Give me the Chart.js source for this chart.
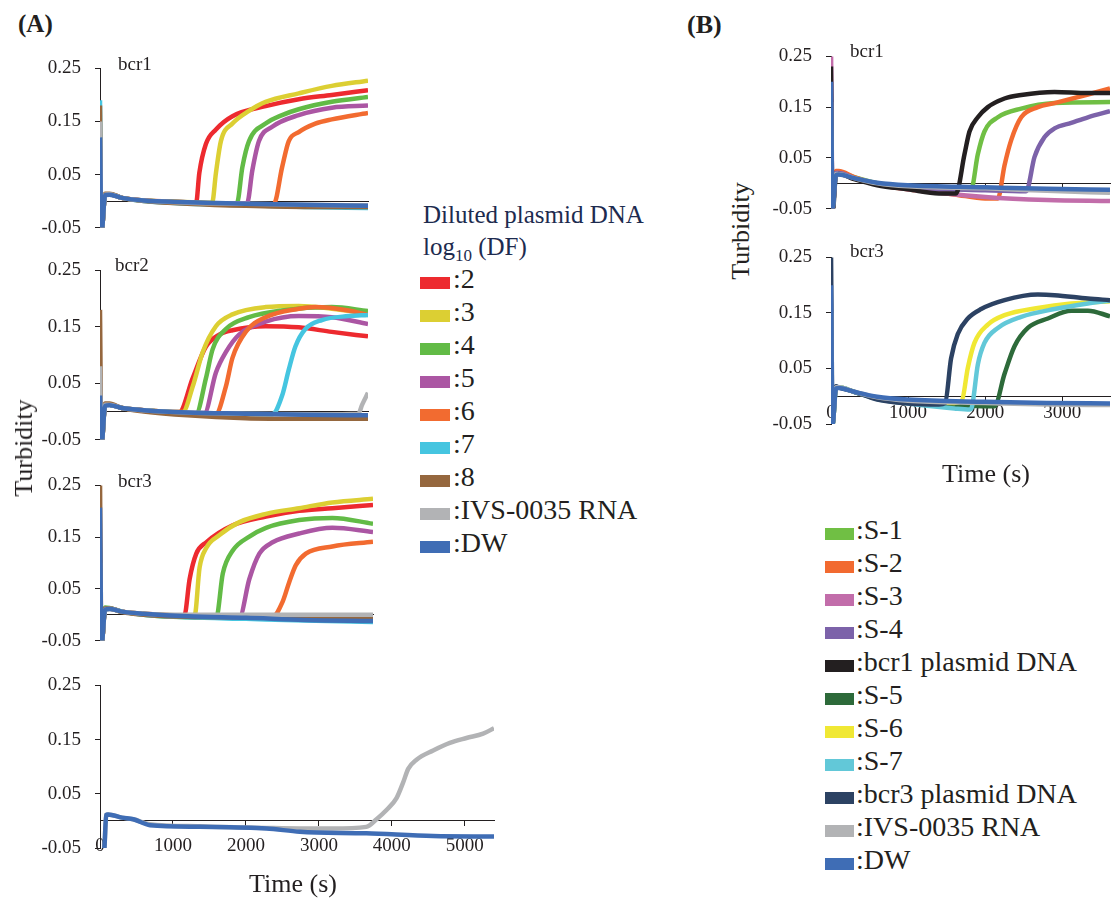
<!DOCTYPE html>
<html>
<head>
<meta charset="utf-8">
<script src="https://cdn.jsdelivr.net/npm/chart.js@4.4.0/dist/chart.umd.min.js"></script>
<style>
body{margin:0;width:1111px;height:901px;overflow:hidden;background:#fff;position:relative;font-family:"Liberation Serif","Times New Roman",serif;color:#231f20}
canvas{position:absolute}
.t{position:absolute;white-space:nowrap;line-height:1}
.lab{font-size:19px}
.ax{font-size:26px}
.rot{transform:translate(-50%,-50%) rotate(-90deg)}
.box{position:absolute;height:12px}
.leg{position:absolute;font-size:28px;line-height:1;white-space:nowrap}
</style>
</head>
<body>
<canvas id="a1"></canvas>
<canvas id="a2"></canvas>
<canvas id="a3"></canvas>
<canvas id="a4"></canvas>
<canvas id="b1"></canvas>
<canvas id="b2"></canvas>

<div class="t" style="left:18px;top:11px;font-size:25px;font-weight:bold">(A)</div>
<div class="t" style="left:687px;top:12px;font-size:26px;font-weight:bold">(B)</div>
<div class="t lab" style="left:118px;top:54px">bcr1</div>
<div class="t lab" style="left:115px;top:255px">bcr2</div>
<div class="t lab" style="left:118px;top:471px">bcr3</div>
<div class="t lab" style="left:850px;top:41px">bcr1</div>
<div class="t lab" style="left:850px;top:241px">bcr3</div>
<div class="t ax rot" style="left:24px;top:448px">Turbidity</div>
<div class="t ax rot" style="left:741px;top:231px">Turbidity</div>
<div class="t ax" style="left:193px;width:200px;text-align:center;top:871px">Time (s)</div>
<div class="t ax" style="left:886px;width:200px;text-align:center;top:461px">Time (s)</div>
<div class="t" style="left:423px;top:202px;font-size:25px;color:#1d2b4f">Diluted plasmid DNA</div>
<div class="t" style="left:423px;top:234px;font-size:25px;color:#1d2b4f">log<sub style="font-size:17px">10</sub> (DF)</div>
<div id="legA"></div>
<div id="legB"></div>

<script>
// tick values shared by all panels
const yTicks = [-0.05, 0.05, 0.15, 0.25]
const yTickLabels = ['-0.05', '0.05', '0.15', '0.25']
const xTicks = [0, 1000, 2000, 3000, 4000, 5000]

// legend (A)
const namesA = ['2', '3', '4', '5', '6', '7', '8', 'IVS-0035 RNA', 'DW']
const colorsA = ['#ed2a2f', '#dccf33', '#62bb46', '#ab56a3', '#f26b30', '#45c5e0', '#95673e', '#b2b3b5', '#3f6db5']
// legend (B)
const namesB = ['S-1', 'S-2', 'S-3', 'S-4', 'bcr1 plasmid DNA', 'S-5', 'S-6', 'S-7', 'bcr3 plasmid DNA', 'IVS-0035 RNA', 'DW']
const colorsB = ['#70bf44', '#f26a30', '#c26daa', '#7c62a9', '#231f20', '#2d6a3a', '#f0e834', '#62c8d8', '#2c4263', '#b2b3b5', '#3f6db5']

// (A) bcr1 : [time s, turbidity]
const a1_2 = [[0,0.10],[20,-0.06],[70,0.012],[130,0.013],[300,0.006],[600,0.001],[1000,-0.001],[1320,-0.003],[1364,0.053],[1455,0.108],[1592,0.135],[1819,0.160],[2274,0.179],[2729,0.192],[3183,0.200],[3680,0.209]]
const a1_3 = [[0,0.09],[20,-0.06],[70,0.012],[130,0.013],[300,0.006],[600,0.001],[1000,-0.001],[1540,-0.003],[1592,0.053],[1660,0.113],[1819,0.146],[2046,0.170],[2274,0.187],[2729,0.203],[3183,0.217],[3680,0.227]]
const a1_4 = [[0,0.08],[20,-0.06],[70,0.012],[130,0.013],[300,0.006],[600,0.001],[1200,-0.003],[1880,-0.004],[1955,0.064],[2046,0.113],[2274,0.146],[2501,0.162],[2729,0.173],[3183,0.187],[3680,0.196]]
const a1_5 = [[0,0.07],[20,-0.06],[70,0.012],[130,0.013],[300,0.006],[600,0.001],[1200,-0.003],[2020,-0.004],[2092,0.058],[2183,0.113],[2365,0.140],[2729,0.162],[3183,0.176],[3680,0.180]]
const a1_6 = [[0,0.06],[20,-0.06],[70,0.012],[130,0.013],[300,0.006],[600,0.001],[1200,-0.004],[2385,-0.006],[2501,0.064],[2592,0.113],[2729,0.130],[2956,0.146],[3183,0.154],[3680,0.166]]
const a1_7 = [[0,0.19],[20,-0.06],[70,0.012],[130,0.013],[300,0.006],[600,0.0],[1200,-0.005],[2000,-0.008],[2800,-0.011],[3680,-0.013]]
const a1_8 = [[0,0.18],[20,-0.06],[70,0.014],[130,0.014],[300,0.006],[600,0.0],[1200,-0.005],[2000,-0.009],[2800,-0.011],[3680,-0.011]]
const a1_ivs = [[0,0.15],[20,-0.06],[70,0.012],[130,0.013],[300,0.006],[600,0.001],[1200,-0.003],[2000,-0.005],[2800,-0.007],[3680,-0.008]]
const a1_dw = [[0,0.12],[20,-0.06],[70,0.011],[130,0.012],[300,0.006],[600,0.001],[1200,-0.002],[2000,-0.005],[2800,-0.007],[3680,-0.009]]

// (A) bcr2
const a2_2 = [[0,0.05],[20,-0.06],[70,0.012],[130,0.012],[300,0.006],[600,0.002],[1000,-0.001],[1090,-0.001],[1273,0.059],[1455,0.115],[1637,0.136],[1819,0.144],[2274,0.151],[2729,0.149],[3183,0.141],[3680,0.133]]
const a2_3 = [[0,0.04],[20,-0.06],[70,0.012],[130,0.012],[300,0.006],[600,0.002],[1000,-0.001],[1137,-0.001],[1273,0.044],[1410,0.105],[1592,0.151],[1819,0.172],[2274,0.185],[2729,0.187],[3183,0.182],[3680,0.174]]
const a2_4 = [[0,0.04],[20,-0.06],[70,0.012],[130,0.012],[300,0.006],[600,0.002],[1000,-0.002],[1319,-0.004],[1455,0.059],[1546,0.110],[1728,0.146],[2046,0.167],[2501,0.179],[3183,0.185],[3680,0.178]]
const a2_5 = [[0,0.03],[20,-0.06],[70,0.012],[130,0.012],[300,0.006],[600,0.002],[1000,-0.002],[1433,-0.003],[1592,0.069],[1728,0.105],[1910,0.136],[2274,0.159],[2729,0.169],[3183,0.167],[3680,0.155]]
const a2_6 = [[0,0.03],[20,-0.06],[70,0.012],[130,0.012],[300,0.006],[600,0.002],[1000,-0.002],[1592,-0.004],[1728,0.044],[1819,0.095],[2001,0.141],[2274,0.167],[2729,0.182],[2956,0.185],[3411,0.179],[3680,0.171]]
const a2_7 = [[0,0.02],[20,-0.06],[70,0.012],[130,0.012],[300,0.006],[600,0.002],[1200,-0.003],[2365,-0.005],[2501,0.028],[2592,0.074],[2683,0.115],[2820,0.146],[3047,0.162],[3411,0.169],[3680,0.171]]
const a2_8 = [[0,0.18],[20,-0.06],[70,0.014],[130,0.014],[300,0.006],[600,0.0],[1200,-0.007],[2000,-0.012],[2800,-0.013],[3680,-0.013]]
const a2_ivs = [[0,0.08],[20,-0.06],[70,0.012],[130,0.012],[300,0.006],[600,0.002],[1200,-0.002],[2000,-0.004],[3000,-0.005],[3547,-0.004],[3600,0.012],[3680,0.033]]
const a2_dw = [[0,0.028],[20,-0.06],[70,0.010],[130,0.011],[300,0.006],[600,0.002],[1200,-0.002],[2000,-0.004],[2800,-0.006],[3680,-0.007]]

// (A) bcr3
const a3_2 = [[0,0.05],[20,-0.06],[70,0.012],[130,0.012],[300,0.006],[600,0.002],[1000,-0.001],[1155,-0.002],[1228,0.069],[1319,0.118],[1455,0.140],[1819,0.173],[2274,0.190],[2729,0.201],[3183,0.206],[3740,0.212]]
const a3_3 = [[0,0.05],[20,-0.06],[70,0.012],[130,0.012],[300,0.006],[600,0.002],[1000,-0.001],[1296,-0.002],[1364,0.091],[1455,0.129],[1637,0.154],[1910,0.179],[2274,0.195],[2729,0.206],[3183,0.217],[3740,0.224]]
const a3_4 = [[0,0.04],[20,-0.06],[70,0.014],[130,0.013],[300,0.006],[600,0.0],[1000,-0.004],[1592,-0.006],[1683,0.080],[1819,0.124],[2046,0.151],[2274,0.168],[2729,0.183],[3183,0.187],[3740,0.176]]
const a3_5 = [[0,0.03],[20,-0.06],[70,0.012],[130,0.012],[300,0.006],[600,0.001],[1000,-0.003],[1910,-0.005],[2046,0.069],[2183,0.118],[2365,0.140],[2729,0.157],[3183,0.168],[3740,0.160]]
const a3_6 = [[0,0.03],[20,-0.06],[70,0.012],[130,0.012],[300,0.006],[600,0.001],[1000,-0.003],[2365,-0.004],[2501,0.025],[2592,0.063],[2683,0.096],[2820,0.118],[3183,0.132],[3740,0.141]]
const a3_7 = [[0,0.02],[20,-0.06],[70,0.012],[130,0.012],[300,0.006],[600,0.0],[1200,-0.005],[2000,-0.008],[2800,-0.011],[3740,-0.014]]
const a3_8 = [[0,0.26],[20,-0.06],[70,0.012],[130,0.012],[300,0.005],[600,0.0],[1200,-0.004],[2000,-0.005],[2800,-0.006],[3740,-0.006]]
const a3_ivs = [[0,0.10],[20,-0.06],[70,0.010],[130,0.011],[300,0.006],[600,0.002],[1200,0.0],[2000,0.0],[2800,0.0],[3740,0.0]]
const a3_dw = [[0,0.207],[20,-0.06],[70,0.010],[130,0.011],[300,0.006],[600,0.002],[1200,-0.003],[2000,-0.006],[2800,-0.010],[3740,-0.012]]

// (A) bottom panel, long run
const a4_ivs = [[40,-0.06],[60,-0.05],[85,0.011],[110,0.012],[300,0.006],[457,0.003],[685,-0.006],[1370,-0.010],[2283,-0.013],[2740,-0.014],[3183,-0.014],[3650,-0.011],[3790,0.003],[3927,0.020],[4064,0.042],[4155,0.071],[4224,0.096],[4338,0.113],[4566,0.130],[4795,0.144],[5023,0.153],[5251,0.161],[5400,0.171]]
const a4_dw = [[40,-0.06],[60,-0.05],[85,0.011],[110,0.012],[300,0.006],[457,0.003],[685,-0.008],[1370,-0.011],[2283,-0.014],[2740,-0.020],[3650,-0.023],[4566,-0.028],[5400,-0.029]]

// (B) bcr1
const b1_s1 = [[0,0.10],[20,-0.05],[65,0.020],[100,0.022],[300,0.012],[600,0.0],[1000,-0.006],[1500,-0.010],[1818,-0.012],[1905,0.057],[1991,0.102],[2165,0.130],[2468,0.147],[2900,0.158],[3620,0.160]]
const b1_s2 = [[0,0.15],[20,-0.05],[65,0.024],[100,0.024],[300,0.012],[600,-0.002],[1000,-0.012],[1600,-0.022],[2000,-0.030],[2165,-0.030],[2251,0.035],[2338,0.085],[2468,0.130],[2684,0.150],[2900,0.158],[3333,0.175],[3620,0.187]]
const b1_s3 = [[0,0.27],[20,-0.05],[65,0.020],[100,0.020],[300,0.010],[600,-0.002],[1000,-0.012],[2000,-0.027],[2800,-0.033],[3620,-0.035]]
const b1_s4 = [[0,0.12],[20,-0.05],[65,0.020],[100,0.020],[300,0.010],[600,-0.001],[1000,-0.008],[2000,-0.014],[2532,-0.016],[2641,0.052],[2771,0.091],[2900,0.108],[3117,0.119],[3333,0.130],[3620,0.142]]
const b1_bcr1 = [[0,0.23],[20,-0.06],[65,0.016],[100,0.018],[300,0.008],[600,-0.004],[1000,-0.012],[1400,-0.020],[1623,-0.020],[1732,0.057],[1797,0.102],[1905,0.130],[2035,0.150],[2251,0.167],[2468,0.174],[2900,0.180],[3333,0.178],[3620,0.178]]
const b1_ivs = [[0,0.16],[20,-0.05],[65,0.018],[100,0.018],[300,0.010],[600,0.0],[1000,-0.006],[2000,-0.010],[2800,-0.015],[3620,-0.019]]
const b1_dw = [[0,0.20],[20,-0.05],[65,0.016],[100,0.017],[300,0.010],[600,0.001],[1000,-0.004],[2000,-0.008],[2800,-0.011],[3620,-0.013]]

// (B) bcr3
const b2_s5 = [[0,0.10],[20,-0.05],[65,0.016],[100,0.016],[300,0.008],[600,-0.004],[1000,-0.010],[1800,-0.017],[2121,-0.018],[2251,0.040],[2381,0.090],[2554,0.123],[2814,0.140],[3117,0.154],[3333,0.154],[3620,0.144]]
const b2_s6 = [[0,0.10],[20,-0.05],[65,0.016],[100,0.016],[300,0.008],[600,-0.004],[1000,-0.009],[1600,-0.012],[1697,-0.008],[1775,0.051],[1861,0.096],[2035,0.129],[2251,0.146],[2684,0.159],[3117,0.167],[3620,0.171]]
const b2_s7 = [[0,0.12],[20,-0.05],[65,0.016],[100,0.016],[300,0.008],[600,-0.005],[1000,-0.013],[1600,-0.022],[1800,-0.024],[1827,-0.020],[1905,0.057],[1991,0.096],[2165,0.123],[2468,0.143],[2900,0.157],[3333,0.167],[3620,0.172]]
const b2_bcr3 = [[0,0.26],[20,-0.05],[65,0.018],[100,0.016],[300,0.008],[600,-0.006],[1000,-0.013],[1400,-0.015],[1481,-0.012],[1558,0.068],[1645,0.112],[1775,0.140],[1948,0.157],[2251,0.173],[2684,0.183],[2900,0.182],[3333,0.176],[3620,0.173]]
const b2_ivs = [[0,0.15],[20,-0.05],[65,0.016],[100,0.016],[300,0.008],[600,-0.002],[1000,-0.008],[2000,-0.012],[2800,-0.015],[3620,-0.016]]
const b2_dw = [[0,0.20],[20,-0.05],[65,0.014],[100,0.015],[300,0.008],[600,-0.001],[1000,-0.006],[2000,-0.010],[2800,-0.012],[3620,-0.013]]

const ink = '#231f20'
const tickFont = {family: 'Liberation Serif', size: 19}
const axisW = 70
const padT = 12

function makePanel(id, box, series) {
  const cv = document.getElementById(id)
  const w = Math.round(box.r - box.l + axisW + box.padR)
  const h = Math.round(box.b - box.t + padT + box.padB)
  cv.width = w
  cv.height = h
  cv.style.width = w + 'px'
  cv.style.height = h + 'px'
  cv.style.left = (box.l - axisW) + 'px'
  cv.style.top = (box.t - padT) + 'px'

  const n = series.length
  const datasets = series.map((s, i) => ({
    data: s.pts.map(p => ({x: p[0], y: p[1]})),
    borderColor: s.color,
    borderWidth: 4.5,
    pointRadius: 0,
    cubicInterpolationMode: 'monotone',
    order: n - i  //DW ends up on top
  }))

  new Chart(cv, {
    type: 'line',
    data: {datasets},
    options: {
      responsive: false,
      animation: false,
      events: [],
      layout: {padding: {left: 0, top: padT, right: box.padR, bottom: box.padB}},
      plugins: {legend: {display: false}, tooltip: {enabled: false}},
      scales: {
        x: {
          type: 'linear', min: 0, max: box.max, position: {y: 0},
          border: {display: true, color: ink, width: 1},
          grid: {display: true, drawOnChartArea: false, drawTicks: box.xTicks, tickLength: 5, color: ink},
          ticks: {display: box.xLabels, padding: box.xPad, font: tickFont, color: ink, maxRotation: 0, callback: v => String(v)},
          afterBuildTicks: s => { s.ticks = xTicks.filter(v => v <= box.max).map(v => ({value: v})) }
        },
        y: {
          type: 'linear', min: -0.05, max: 0.25, position: 'left',
          border: {display: true, color: ink, width: 1},
          grid: {display: true, drawOnChartArea: false, drawTicks: true, tickLength: 5, color: ink},
          ticks: {padding: 14, font: tickFont, color: ink, callback: (v, i) => yTickLabels[i]},
          afterBuildTicks: s => { s.ticks = yTicks.map(v => ({value: v})) },
          afterFit: s => { s.width = axisW }
        }
      }
    }
  })
}

const A = (pts, i) => ({pts, color: colorsA[i]})
const B = (pts, i) => ({pts, color: colorsB[i]})

makePanel('a1', {l: 100, t: 55, r: 368.3, b: 239, max: 3680, padR: 6, padB: 14, xTicks: false, xLabels: false, xPad: 0},
  [A(a1_2,0), A(a1_3,1), A(a1_4,2), A(a1_5,3), A(a1_6,4), A(a1_7,5), A(a1_8,6), A(a1_ivs,7), A(a1_dw,8)])
makePanel('a2', {l: 100, t: 257, r: 368.3, b: 451, max: 3680, padR: 6, padB: 14, xTicks: false, xLabels: false, xPad: 0},
  [A(a2_2,0), A(a2_3,1), A(a2_4,2), A(a2_5,3), A(a2_6,4), A(a2_7,5), A(a2_8,6), A(a2_ivs,7), A(a2_dw,8)])
makePanel('a3', {l: 100, t: 472, r: 372.6, b: 652, max: 3740, padR: 6, padB: 14, xTicks: false, xLabels: false, xPad: 0},
  [A(a3_2,0), A(a3_3,1), A(a3_4,2), A(a3_5,3), A(a3_6,4), A(a3_7,5), A(a3_8,6), A(a3_ivs,7), A(a3_dw,8)])
makePanel('a4', {l: 100, t: 672, r: 493.7, b: 848, max: 5400, padR: 8, padB: 50, xTicks: true, xLabels: true, xPad: 9},
  [A(a4_ivs,7), A(a4_dw,8)])
makePanel('b1', {l: 831, t: 43, r: 1110, b: 220, max: 3620, padR: 1, padB: 14, xTicks: true, xLabels: false, xPad: 0},
  [B(b1_s1,0), B(b1_s2,1), B(b1_s3,2), B(b1_s4,3), B(b1_bcr1,4), B(b1_ivs,9), B(b1_dw,10)])
makePanel('b2', {l: 831, t: 244, r: 1110, b: 424, max: 3620, padR: 1, padB: 30, xTicks: true, xLabels: true, xPad: 0},
  [B(b2_s5,5), B(b2_s6,6), B(b2_s7,7), B(b2_bcr3,8), B(b2_ivs,9), B(b2_dw,10)])

// legends as plain html rows
function makeLegend(el, names, colors, boxX, boxW, textX, base0, step) {
  let html = ''
  names.forEach((name, i) => {
    const b = base0 + step * i
    html += '<div class="box" style="left:' + boxX + 'px;top:' + (b - 12) + 'px;width:' + boxW + 'px;background:' + colors[i] + '"></div>'
    html += '<div class="leg" style="left:' + textX + 'px;top:' + (b - 24) + 'px">:' + name + '</div>'
  })
  document.getElementById(el).innerHTML = html
}
makeLegend('legA', namesA, colorsA, 420, 30, 453, 289, 33)
makeLegend('legB', namesB, colorsB, 825, 29, 856, 540, 33)
</script>
</body>
</html>
